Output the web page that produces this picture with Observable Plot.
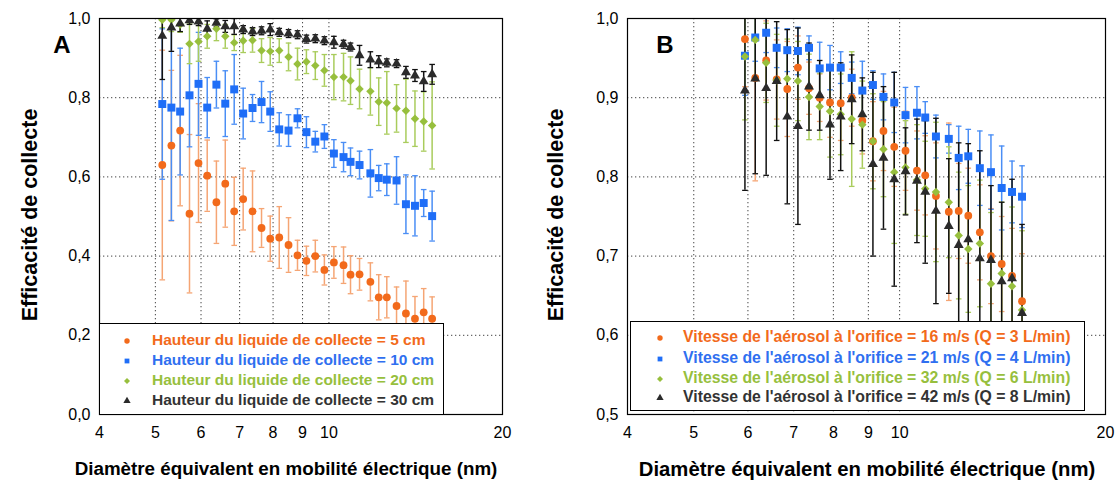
<!DOCTYPE html>
<html>
<head>
<meta charset="utf-8">
<script src="https://cdn.jsdelivr.net/npm/d3@7"></script>
<script src="https://cdn.jsdelivr.net/npm/@observablehq/plot@0.6"></script>
<style>
  html, body { margin: 0; padding: 0; background: #fff; }
  #root { position: relative; width: 1120px; height: 484px; overflow: hidden; font-family: "Liberation Sans", Arial, sans-serif; }
  .panel { position: absolute; top: 0; }
  .lbl { position: absolute; font-weight: bold; color: #000; white-space: nowrap; }
  .legend { position: absolute; background: #fff; border: 1.5px solid #000; box-sizing: border-box; }
  .legend .row { position: absolute; left: 0; right: 0; height: 20px; font-weight: bold; white-space: nowrap; }
  .legend svg { position: absolute; top: 5px; }
  .legend span { position: absolute; top: 1px; }
</style>
</head>
<body>
<div id="root"></div>
<script>
// ---------- Data ----------
// Panel A: diameters (nm)
const diamA = [5.14,5.33,5.52,5.73,5.94,6.15,6.38,6.61,6.85,7.10,7.37,7.64,7.91,8.20,8.51,8.82,9.14,9.47,9.82,10.2,10.6,10.9,11.3,11.8,12.2,12.6,13.1,13.6,14.1,14.6,15.1];
const effA5  = [0.630,0.679,0.717,0.507,0.635,0.603,0.536,0.583,0.513,0.544,0.513,0.471,0.444,0.447,0.428,0.402,0.388,0.400,0.365,0.384,0.377,0.353,0.354,0.335,0.296,0.296,0.274,0.255,0.242,0.258,0.242];
const errA5  = [0.29,0.19,0.19,0.20,0.15,0.09,0.104,0.11,0.086,0.078,0.102,0.049,0.057,0.078,0.069,0.038,0.037,0.04,0.038,0.04,0.046,0.048,0.04,0.048,0.057,0.052,0.048,0.082,0.056,0.06,0.055];
const effA10 = [0.784,0.775,0.765,0.806,0.835,0.775,0.833,0.785,0.821,0.760,0.774,0.789,0.765,0.720,0.717,0.748,0.713,0.689,0.702,0.659,0.650,0.638,0.630,0.609,0.597,0.593,0.591,0.531,0.527,0.534,0.501];
const errA10 = [0.19,0.285,0.16,0.13,0.13,0.076,0.059,0.083,0.088,0.064,0.034,0.052,0.05,0.042,0.04,0.024,0.039,0.026,0.03,0.035,0.037,0.035,0.035,0.06,0.032,0.04,0.06,0.074,0.076,0.034,0.063];
const effA20 = [0.997,0.997,0.985,0.936,0.942,0.955,0.974,0.955,0.939,0.944,0.945,0.919,0.917,0.919,0.903,0.885,0.891,0.881,0.869,0.852,0.852,0.843,0.822,0.816,0.790,0.787,0.773,0.767,0.747,0.740,0.730];
const errA20 = [0.02,0.03,0.02,0.05,0.05,0.03,0.03,0.03,0.02,0.03,0.03,0.03,0.035,0.03,0.035,0.04,0.03,0.035,0.04,0.057,0.06,0.06,0.05,0.06,0.06,0.079,0.06,0.08,0.07,0.075,0.11];
const effA30 = [0.956,0.977,0.987,0.995,0.992,0.974,0.989,0.980,0.980,0.972,0.967,0.969,0.972,0.965,0.962,0.959,0.948,0.949,0.944,0.940,0.935,0.928,0.907,0.896,0.891,0.888,0.886,0.864,0.856,0.841,0.859];
const errA30 = [0.11,0.06,0.02,0.01,0.01,0.02,0.01,0.015,0.02,0.01,0.01,0.01,0.015,0.01,0.01,0.01,0.01,0.01,0.01,0.015,0.01,0.01,0.025,0.02,0.015,0.01,0.01,0.015,0.015,0.025,0.025];

// Panel B
const diamB = [5.94,6.15,6.38,6.61,6.85,7.10,7.37,7.64,7.91,8.20,8.51,8.82,9.14,9.47,9.82,10.2,10.6,10.9,11.3,11.8,12.2,12.6,13.1,13.6,14.1,14.6,15.1];
const effB16 = [0.974,0.925,0.947,0.923,0.911,0.938,0.912,0.900,0.894,0.893,0.900,0.871,0.845,0.858,0.838,0.833,0.808,0.802,0.776,0.756,0.757,0.751,0.730,0.700,0.690,0.675,0.643];
const errB16 = [0.06,0.13,0.05,0.05,0.06,0.04,0.033,0.03,0.044,0.047,0.036,0.042,0.05,0.05,0.05,0.05,0.05,0.05,0.067,0.112,0.06,0.06,0.06,0.06,0.06,0.06,0.06];
const effB21 = [0.953,0.976,0.982,0.963,0.960,0.959,0.963,0.937,0.938,0.938,0.925,0.909,0.916,0.901,0.894,0.878,0.881,0.875,0.851,0.848,0.824,0.826,0.811,0.806,0.786,0.781,0.775];
const errB21 = [0.05,0.03,0.025,0.025,0.027,0.03,0.015,0.033,0.028,0.02,0.02,0.037,0.018,0.029,0.038,0.035,0.033,0.02,0.027,0.018,0.04,0.034,0.047,0.047,0.053,0.039,0.039];
const effB32 = [0.952,0.973,0.944,0.922,0.924,0.921,0.901,0.889,0.883,0.879,0.873,0.866,0.845,0.835,0.806,0.812,0.796,0.785,0.781,0.768,0.726,0.709,0.716,0.665,0.678,0.662,0.632];
const errB32 = [0.08,0.05,0.05,0.058,0.05,0.05,0.054,0.042,0.058,0.051,0.085,0.055,0.06,0.06,0.09,0.059,0.07,0.06,0.088,0.07,0.08,0.08,0.08,0.09,0.09,0.1,0.1];
const effB42 = [0.909,0.924,0.912,0.921,0.876,0.864,0.914,0.903,0.866,0.876,0.898,0.879,0.816,0.824,0.797,0.807,0.795,0.781,0.757,0.738,0.714,0.721,0.697,0.695,0.668,0.672,0.628];
const errB42 = [0.126,0.12,0.11,0.075,0.11,0.124,0.055,0.044,0.069,0.068,0.056,0.046,0.116,0.09,0.135,0.055,0.078,0.09,0.117,0.085,0.129,0.121,0.136,0.094,0.1,0.125,0.112];

const xTicks = [4,5,6,7,8,9,10,20];
const xGrid = [5,6,7,8,9,10];
const yTicksA = [0,0.2,0.4,0.6,0.8,1.0];
const yGridA = [0.2,0.4,0.6,0.8];
const yTicksB = [0.5,0.6,0.7,0.8,0.9,1.0];
const yGridB = [0.6,0.7,0.8,0.9];

const labelsA = ["Hauteur du liquide de collecte = 5 cm","Hauteur du liquide de collecte = 10 cm","Hauteur du liquide de collecte = 20 cm","Hauteur du liquide de collecte = 30 cm"];
const labelsB = ["Vitesse de l'aérosol à l'orifice = 16 m/s (Q = 3 L/min)","Vitesse de l'aérosol à l'orifice = 21 m/s (Q = 4 L/min)","Vitesse de l'aérosol à l'orifice = 32 m/s (Q = 6 L/min)","Vitesse de l'aérosol à l'orifice = 42 m/s (Q = 8 L/min)"];
const xTitle = "Diamètre équivalent en mobilité électrique (nm)";
const yTitle = "Efficacité de collecte";

// ---------- Styles ----------
const styles = [
  {symbol: "circle",   r: 3.9, fill: "#f26a1b", bar: "#f5a574", text: "#f26a1b"},
  {symbol: "square",   r: 4.5, fill: "#1f6ef7", bar: "#4a8ef5", text: "#2f6ff0"},
  {symbol: "diamond2", r: 3.8, fill: "#97bf3d", bar: "#a9cc5c", text: "#97bf3d"},
  {symbol: "triangle", r: 3.7, fill: "#2b2b2b", bar: "#111111", text: "#333333"}
];

const capSymbol = {
  draw(ctx, size) { const w = Math.sqrt(size / Math.PI); ctx.moveTo(-w, 0); ctx.lineTo(w, 0); }
};

function rows(xs, ys, es) { return xs.map((x, i) => ({x, y: ys[i], lo: ys[i] - es[i], hi: ys[i] + es[i]})); }

const fmt = d => d.toFixed(1).replace(".", ",");

function panel({width, marginLeft, marginRight, yDomain, yTicks, yGrid, series}) {
  const marks = [
    Plot.ruleX(xGrid, {stroke: "#444", strokeDasharray: "1.3,2.7", strokeWidth: 1}),
    Plot.ruleY(yGrid, {stroke: "#444", strokeDasharray: "1.3,2.7", strokeWidth: 1})
  ];
  series.forEach((s, k) => {
    const st = styles[k];
    marks.push(Plot.ruleX(s, {x: "x", y1: "lo", y2: "hi", stroke: st.bar, strokeWidth: 1.5, clip: true}));
    marks.push(Plot.dot(s, {x: "x", y: "lo", symbol: capSymbol, r: 2.8, stroke: st.bar, strokeWidth: 1.3, clip: true}));
    marks.push(Plot.dot(s, {x: "x", y: "hi", symbol: capSymbol, r: 2.8, stroke: st.bar, strokeWidth: 1.3, clip: true}));
  });
  series.forEach((s, k) => {
    const st = styles[k];
    marks.push(Plot.dot(s, {x: "x", y: "y", symbol: st.symbol, r: st.r, fill: st.fill, stroke: "none", clip: true}));
  });
  marks.push(Plot.frame({stroke: "#000", strokeWidth: 1.2}));
  marks.push(Plot.axisX({ticks: xTicks, tickFormat: d => String(d), tickSize: 0, tickPadding: 12, fontSize: 16, label: null}));
  marks.push(Plot.axisY({ticks: yTicks, tickFormat: fmt, tickSize: 0, tickPadding: 9, fontSize: 16, label: null}));
  return Plot.plot({
    width, height: 484,
    marginTop: 18, marginBottom: 70, marginLeft, marginRight,
    x: {type: "log", domain: [4, 20]},
    y: {domain: yDomain},
    style: {fontFamily: "'Liberation Sans', Arial, sans-serif", color: "#000", background: "transparent", overflow: "visible"},
    marks
  });
}

const root = document.getElementById("root");

const seriesA = [rows(diamA, effA5, errA5), rows(diamA, effA10, errA10), rows(diamA, effA20, errA20), rows(diamA, effA30, errA30)];
const seriesB = [rows(diamB, effB16, errB16), rows(diamB, effB21, errB21), rows(diamB, effB32, errB32), rows(diamB, effB42, errB42)];

const pA = panel({width: 560, marginLeft: 99, marginRight: 58, yDomain: [0, 1], yTicks: yTicksA, yGrid: yGridA, series: seriesA});
pA.classList.add("panel"); pA.style.left = "0px";
root.appendChild(pA);

const pB = panel({width: 560, marginLeft: 67, marginRight: 15, yDomain: [0.5, 1], yTicks: yTicksB, yGrid: yGridB, series: seriesB});
pB.classList.add("panel"); pB.style.left = "560px";
root.appendChild(pB);

function addLabel(text, cx, cy, size, rotate) {
  const d = document.createElement("div");
  d.className = "lbl";
  d.textContent = text;
  d.style.fontSize = size + "px";
  d.style.left = cx + "px";
  d.style.top = cy + "px";
  d.style.transform = `translate(-50%,-50%)` + (rotate ? " rotate(-90deg)" : "");
  root.appendChild(d);
}
addLabel("A", 62, 45, 24, false);
addLabel("B", 665, 45, 24, false);
addLabel(yTitle, 30, 215, 21.5, true);
addLabel(yTitle, 556, 215, 21.5, true);
addLabel(xTitle, 286, 469, 18.8, false);
addLabel(xTitle, 867, 469, 20.3, false);

function markerSvg(k) {
  const st = styles[k];
  const sym = {circle: d3.symbolCircle, square: d3.symbolSquare, diamond2: d3.symbolDiamond2, triangle: d3.symbolTriangle}[st.symbol];
  const path = d3.symbol(sym, Math.PI * 2.7 * 2.7)();
  return `<svg width="12" height="12" viewBox="-6 -6 12 12"><path d="${path}" fill="${st.fill}"/></svg>`;
}

function addLegend(labels, left, top, width, height, rowTops, markerX, textX, fontSize) {
  const box = document.createElement("div");
  box.className = "legend";
  Object.assign(box.style, {left: left + "px", top: top + "px", width: width + "px", height: height + "px"});
  labels.forEach((t, k) => {
    const r = document.createElement("div");
    r.className = "row";
    r.style.top = rowTops[k] + "px";
    r.style.fontSize = fontSize + "px";
    r.innerHTML = markerSvg(k).replace("<svg", `<svg style="left:${markerX - 6}px"`) + `<span style="left:${textX}px;color:${styles[k].text}"></span>`;
    r.querySelector("span").textContent = t;
    box.appendChild(r);
  });
  root.appendChild(box);
}
addLegend(labelsA, 99, 323, 345, 92, [6, 26, 46, 66], 27, 52, 15.5);
addLegend(labelsB, 630, 321, 455, 90, [5, 26, 46, 65], 29, 52, 15.8);
</script>
</body>
</html>
